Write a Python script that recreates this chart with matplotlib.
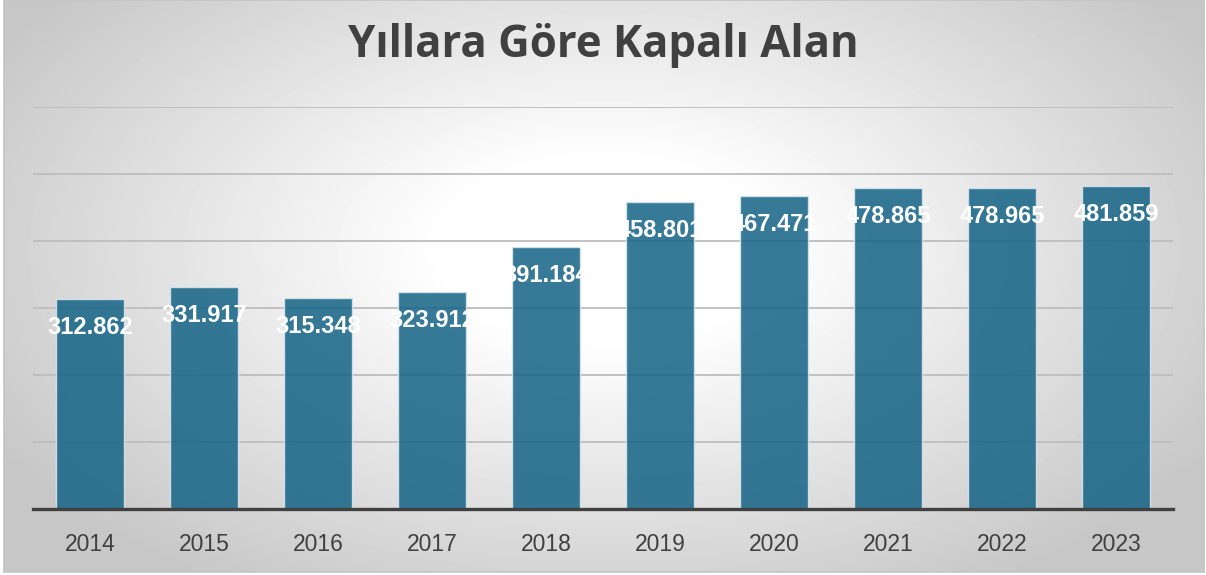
import numpy as np
import matplotlib.pyplot as plt

# data
years = ["2014", "2015", "2016", "2017", "2018", "2019", "2020", "2021", "2022", "2023"]
values = [312.862, 331.917, 315.348, 323.912, 391.184, 458.801, 467.471, 478.865, 478.965, 481.859]
labels = ["312.862", "331.917", "315.348", "323.912", "391.184",
          "458.801", "467.471", "478.865", "478.965", "481.859"]

W, H = 1206, 575
fig = plt.figure(figsize=(W / 100, H / 100), dpi=100)
fig.patch.set_facecolor("white")

# radial gradient background
bg = fig.add_axes([4 / W, 3 / H, 1200 / W, 572 / H], zorder=-2)
yy, xx = np.mgrid[0:572, 0:1200]
d = np.sqrt(((xx - 600) / 640.0) ** 2 + ((yy - 250) / 360.0) ** 2)
shade = 1.0 - 0.22 * np.clip((d - 0.25) / 0.85, 0, 1)
bg.imshow(shade, cmap="gray", vmin=0, vmax=1, aspect="auto",
          interpolation="bilinear", origin="upper")
bg.set_xticks([])
bg.set_yticks([])
for s in bg.spines.values():
    s.set_color("#c4c4c4")
    s.set_linewidth(1.2)

ax = fig.add_axes([33 / W, (H - 509) / H, 1140 / W, 402 / H])
ax.patch.set_alpha(0)
x = np.arange(len(years))
bars = ax.bar(x, values, width=0.6, color="#146386", alpha=0.85,
              edgecolor="#dce8ee", linewidth=1.0, zorder=2)

ax.set_xlim(-0.5, len(years) - 0.5)
ax.set_ylim(0, 600)
ax.set_yticks(np.arange(100, 601, 100))
ax.yaxis.grid(True, color="#bdbdbd", linewidth=1.3, zorder=0)
ax.set_axisbelow(True)
ax.tick_params(axis="y", left=False, labelleft=False)
ax.tick_params(axis="x", bottom=False, pad=14)
ax.set_xticks(x)
ax.set_xticklabels(years, fontsize=16.5, color="#404040", family="Liberation Sans")
for side in ["left", "right", "top"]:
    ax.spines[side].set_visible(False)
ax.spines["bottom"].set_color("#404040")
ax.spines["bottom"].set_linewidth(2.4)
ax.spines["bottom"].set_zorder(3)

for xi, v, lab in zip(x, values, labels):
    ax.annotate(lab, (xi, v), xytext=(0, -20.5), textcoords="offset points",
                ha="center", va="center", fontsize=17, fontweight="bold",
                color="white", family="Liberation Sans", zorder=4)

fig.text(0.5, 1 - 46 / H, "Yıllara Göre Kapalı Alan", ha="center", va="center",
         fontsize=31.5, fontweight="bold", color="#404040", family="Open Sans")

fig.savefig("out.png", dpi=100)
